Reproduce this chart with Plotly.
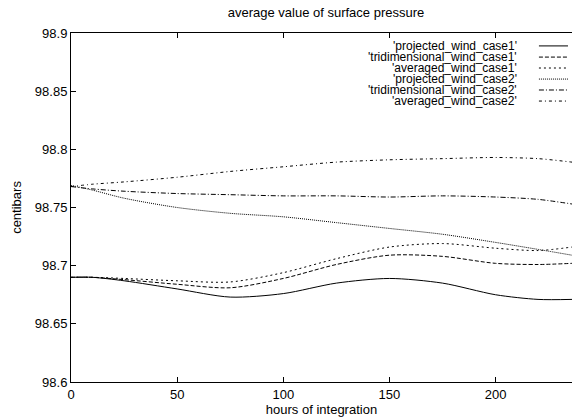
import plotly.graph_objects as go

hours = [0, 10, 25, 50, 75, 100, 125, 150, 175, 200, 220, 236]

projected_wind_case1 = [98.690, 98.690, 98.687, 98.680, 98.673, 98.676, 98.685, 98.689, 98.685, 98.675, 98.671, 98.671]
tridimensional_wind_case1 = [98.690, 98.690, 98.688, 98.684, 98.681, 98.689, 98.701, 98.709, 98.708, 98.702, 98.701, 98.702]
averaged_wind_case1 = [98.690, 98.690, 98.689, 98.687, 98.686, 98.694, 98.706, 98.716, 98.719, 98.715, 98.713, 98.716]
projected_wind_case2 = [98.769, 98.765, 98.758, 98.750, 98.745, 98.742, 98.737, 98.732, 98.727, 98.720, 98.714, 98.709]
tridimensional_wind_case2 = [98.768, 98.766, 98.764, 98.762, 98.761, 98.760, 98.760, 98.759, 98.760, 98.759, 98.757, 98.753]
averaged_wind_case2 = [98.768, 98.770, 98.772, 98.776, 98.781, 98.785, 98.789, 98.791, 98.792, 98.793, 98.792, 98.789]

names = ["'projected_wind_case1'", "'tridimensional_wind_case1'", "'averaged_wind_case1'",
         "'projected_wind_case2'", "'tridimensional_wind_case2'", "'averaged_wind_case2'"]
series = [projected_wind_case1, tridimensional_wind_case1, averaged_wind_case1,
          projected_wind_case2, tridimensional_wind_case2, averaged_wind_case2]
dashes = ["solid", "4px,2px", "2px,3px", "1px,1px", "5px,2px,1px,2px", "3px,3px,1px,3px"]

x_ticks = [0, 50, 100, 150, 200]
y_ticks = [98.6, 98.65, 98.7, 98.75, 98.8, 98.85, 98.9]

FONT = "Liberation Sans, Arial, sans-serif"

fig = go.Figure()
for name, ys, d in zip(names, series, dashes):
    fig.add_trace(go.Scatter(x=hours, y=ys, mode="lines", name=name,
                             line=dict(color="black", width=1, dash=d, shape="spline", smoothing=0.8)))

# legend drawn gnuplot-style: right-aligned text, sample on the right
leg_y = [0.963, 0.931, 0.8997, 0.868, 0.8367, 0.805]
annotations = []
shapes = []
for name, d, ly in zip(names, dashes, leg_y):
    annotations.append(dict(x=0.892, y=ly, xref="paper", yref="paper", text=name, showarrow=False,
                            xanchor="right", yanchor="middle", borderpad=0,
                            font=dict(size=12, color="black", family=FONT)))
    shapes.append(dict(type="line", xref="paper", yref="paper", x0=0.934, x1=0.992, y0=ly, y1=ly,
                       line=dict(color="black", width=1, dash=d)))

fig.update_layout(
    width=572, height=417,
    margin=dict(l=71, r=0, t=33, b=35),
    paper_bgcolor="white", plot_bgcolor="white",
    showlegend=False,
    font=dict(family=FONT, size=13, color="black"),
    title=dict(text="average value of surface pressure", x=326/572, xref="container", xanchor="center",
               y=1 - 12/417, yref="container", yanchor="middle", font=dict(size=13)),
    annotations=annotations, shapes=shapes,
    xaxis=dict(range=[0, 236], tickvals=x_ticks, ticktext=[str(v) for v in x_ticks],
               ticks="inside", ticklen=5, tickcolor="black", showline=True, linecolor="black", linewidth=1,
               mirror="ticks", showgrid=False, zeroline=False,
               title=dict(text="hours of integration", standoff=4, font=dict(size=13))),
    yaxis=dict(range=[98.6, 98.9], tickvals=y_ticks, ticktext=[f"{v:g}" for v in y_ticks],
               ticks="inside", ticklen=5, tickcolor="black", showline=True, linecolor="black", linewidth=1,
               showgrid=False, zeroline=False,
               title=dict(text="centibars", standoff=10, font=dict(size=13))),
)

fig.write_html("out.html", config={"displayModeBar": False},
               post_script="document.body.style.margin='0';document.body.style.overflow='hidden';")
